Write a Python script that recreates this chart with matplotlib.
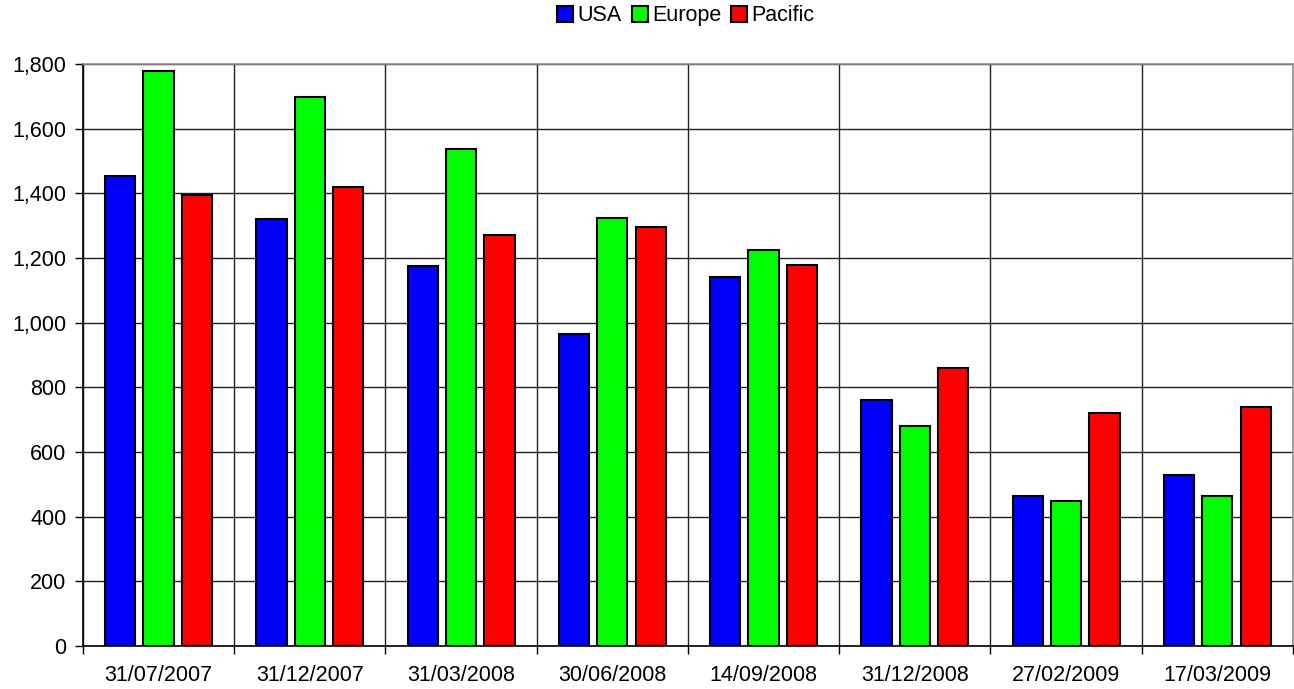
import matplotlib.pyplot as plt
import numpy as np
from matplotlib.ticker import FuncFormatter, MultipleLocator

plt.rcParams["font.family"] = ["Liberation Sans", "DejaVu Sans"]

dates = ["31/07/2007", "31/12/2007", "31/03/2008", "30/06/2008",
         "14/09/2008", "31/12/2008", "27/02/2009", "17/03/2009"]
usa = [1454, 1322, 1175, 965, 1141, 760, 464, 528]
europe = [1777, 1698, 1537, 1324, 1225, 679, 448, 465]
pacific = [1395, 1421, 1271, 1296, 1178, 860, 720, 738]

series = [("USA", usa, "#0000ff"),
          ("Europe", europe, "#00ff00"),
          ("Pacific", pacific, "#ff0000")]

fig = plt.figure(figsize=(12.94, 6.89), dpi=100)
ax = fig.add_axes([83 / 1294, 43 / 689, 1211 / 1294 - 0.0008, 582 / 689])

x = np.arange(len(dates))
width = 0.2
step = 0.254
for i, (name, vals, col) in enumerate(series):
    ax.bar(x + (i - 1) * step, vals, width, color=col, edgecolor="black",
           linewidth=1.5, label=name, zorder=3)

ax.set_xlim(-0.5, len(dates) - 0.5)
ax.set_ylim(0, 1800)
ax.yaxis.set_major_locator(MultipleLocator(200))
ax.yaxis.set_major_formatter(FuncFormatter(lambda v, p: f"{int(v):,}"))
ax.set_xticks(x)
ax.set_xticklabels(dates)
ax.set_xticks(np.arange(-0.5, len(dates), 1), minor=True)

ax.grid(axis="y", which="major", color="#222222", linewidth=1, zorder=0)
ax.grid(axis="x", which="minor", color="#222222", linewidth=1, zorder=0)

ax.tick_params(axis="x", which="major", length=0, pad=14, labelsize=15.5)
ax.tick_params(axis="x", which="minor", length=6, width=1, color="black")
ax.tick_params(axis="y", length=6, width=1, pad=6, labelsize=15.5)

for side in ["top", "right"]:
    ax.spines[side].set_color("#909090")
    ax.spines[side].set_linewidth(1.2)
for side in ["left", "bottom"]:
    ax.spines[side].set_color("black")
    ax.spines[side].set_linewidth(1.2)

fig.legend(loc="center", bbox_to_anchor=(0.530, 0.977), ncol=3, frameon=False,
           fontsize=15.5, handlelength=0.75, handleheight=0.75, handletextpad=0.2,
           columnspacing=0.45)

fig.savefig("out.png", dpi=100)
